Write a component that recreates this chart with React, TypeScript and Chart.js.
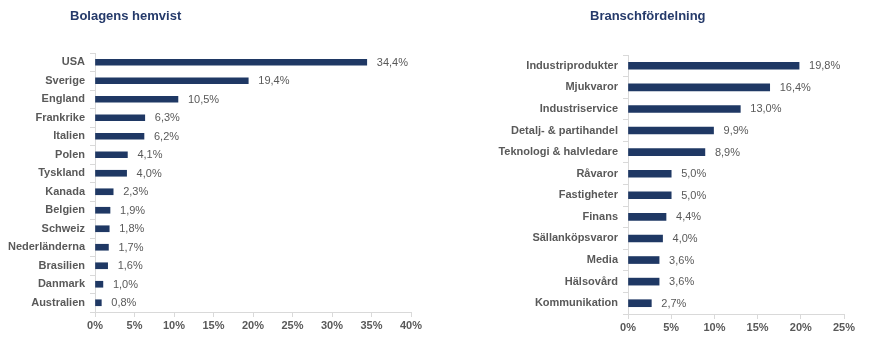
import React, { useEffect, useRef } from "react";
import { Chart, registerables } from "chart.js";

Chart.register(...registerables);

const countryLabels = [
  "USA", "Sverige", "England", "Frankrike", "Italien", "Polen", "Tyskland",
  "Kanada", "Belgien", "Schweiz", "Nederländerna", "Brasilien", "Danmark", "Australien",
];
const countryValues = [34.4, 19.4, 10.5, 6.3, 6.2, 4.1, 4.0, 2.3, 1.9, 1.8, 1.7, 1.6, 1.0, 0.8];

const sectorLabels = [
  "Industriprodukter", "Mjukvaror", "Industriservice", "Detalj- & partihandel",
  "Teknologi & halvledare", "Råvaror", "Fastigheter", "Finans", "Sällanköpsvaror",
  "Media", "Hälsovård", "Kommunikation",
];
const sectorValues = [19.8, 16.4, 13.0, 9.9, 8.9, 5.0, 5.0, 4.4, 4.0, 3.6, 3.6, 2.7];

const leftTitle = "Bolagens hemvist";
const rightTitle = "Branschfördelning";
const leftMax = 40;
const rightMax = 25;

const BAR = "#1F3864";
const TEXT = "#595959";
const AXIS = "#D9D9D9";
const FONT = "'Liberation Sans', Arial, sans-serif";

const fmt = (v: number) => v.toFixed(1).replace(".", ",") + "%";

const valueLabels = {
  id: "valueLabels",
  afterDatasetsDraw(chart: any) {
    const ctx = chart.ctx;
    const meta = chart.getDatasetMeta(0);
    const data = chart.data.datasets[0].data;
    ctx.save();
    ctx.font = `11px ${FONT}`;
    ctx.fillStyle = TEXT;
    ctx.textAlign = "left";
    ctx.textBaseline = "middle";
    meta.data.forEach((el: any, i: number) => {
      ctx.fillText(fmt(data[i]), el.x + 10, el.y + 0.5);
    });
    ctx.restore();
  },
};

type Cfg = {
  labels: string[];
  values: number[];
  max: number;
  yWidth: number;
  xHeight: number;
  top: number;
  right: number;
  thickness: number;
};

function HBar({ cfg, width, height }: { cfg: Cfg; width: number; height: number }) {
  const ref = useRef<HTMLCanvasElement>(null);
  useEffect(() => {
    if (!ref.current) return;
    const chart = new Chart(ref.current, {
      type: "bar",
      data: {
        labels: cfg.labels,
        datasets: [
          {
            data: cfg.values,
            backgroundColor: BAR,
            barThickness: cfg.thickness,
          },
        ],
      },
      options: {
        indexAxis: "y",
        responsive: false,
        animation: false,
        layout: { padding: { top: cfg.top, right: cfg.right, left: 0, bottom: 0 } },
        plugins: { legend: { display: false }, tooltip: { enabled: false }, title: { display: false } },
        scales: {
          x: {
            min: 0,
            max: cfg.max,
            ticks: {
              stepSize: 5,
              callback: (v: any) => v + "%",
              color: TEXT,
              font: { family: FONT, size: 11, weight: "bold" },
              padding: 2,
            },
            grid: { drawOnChartArea: false, color: AXIS, tickLength: 5 },
            border: { color: AXIS },
            afterFit: (s: any) => {
              s.height = cfg.xHeight;
            },
          },
          y: {
            ticks: {
              color: TEXT,
              font: { family: FONT, size: 11, weight: "bold" },
              padding: 5,
              autoSkip: false,
            },
            grid: { drawOnChartArea: false, color: AXIS, tickLength: 5, offset: true },
            border: { color: AXIS },
            afterFit: (s: any) => {
              s.width = cfg.yWidth;
            },
          },
        },
      } as any,
      plugins: [valueLabels],
    });
    return () => chart.destroy();
  }, []);
  return <canvas ref={ref} width={width} height={height} style={{ display: "block" }} />;
}

const titleStyle: React.CSSProperties = {
  position: "absolute",
  top: 7,
  fontFamily: FONT,
  fontWeight: "bold",
  fontSize: 13,
  color: "#253A6A",
  whiteSpace: "nowrap",
  lineHeight: "18px",
};

export default function App() {
  const leftCfg: Cfg = {
    labels: countryLabels,
    values: countryValues,
    max: leftMax,
    yWidth: 95,
    xHeight: 27,
    top: 53,
    right: 26,
    thickness: 6,
  };
  const rightCfg: Cfg = {
    labels: sectorLabels,
    values: sectorValues,
    max: rightMax,
    yWidth: 191,
    xHeight: 25,
    top: 55,
    right: 31,
    thickness: 7,
  };
  return (
    <div style={{ position: "fixed", left: 0, top: 0, width: 875, height: 339, background: "#fff" }}>
      <div style={{ position: "absolute", left: 0, top: 0 }}>
        <HBar cfg={leftCfg} width={437} height={339} />
      </div>
      <div style={{ position: "absolute", left: 437, top: 0 }}>
        <HBar cfg={rightCfg} width={438} height={339} />
      </div>
      <div style={{ ...titleStyle, left: 70 }}>{leftTitle}</div>
      <div style={{ ...titleStyle, left: 590 }}>{rightTitle}</div>
    </div>
  );
}
